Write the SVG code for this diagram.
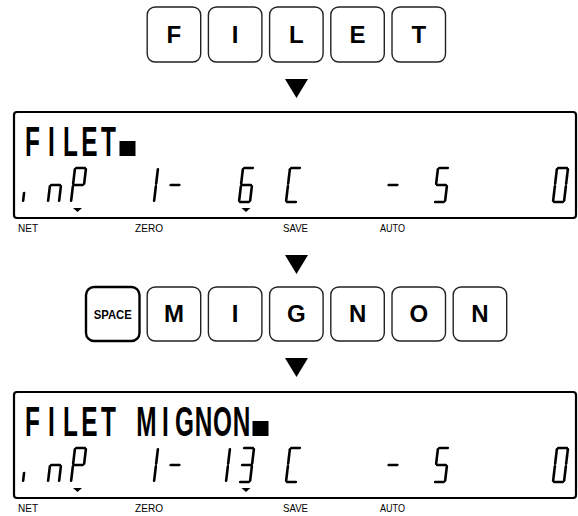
<svg xmlns="http://www.w3.org/2000/svg" width="578" height="516" viewBox="0 0 578 516">
<style>
.key rect{fill:#fff;stroke:#222;stroke-width:1.4}
.key text{font-family:"Liberation Sans",Arial,sans-serif;font-weight:bold;font-size:24px;text-anchor:middle;fill:#000}
.space rect{stroke:#000;stroke-width:2.4}
.space text{font-size:13px}
.frame{fill:#fff;stroke:#000;stroke-width:2.2}
.lcdtxt{font-family:"Liberation Sans",Arial,sans-serif;font-weight:bold;font-size:42px;text-anchor:middle;fill:#000}
.seg{fill:none;stroke:#000;stroke-width:2.6;stroke-linecap:round}
.lbl{font-family:"Liberation Sans",Arial,sans-serif;font-size:11px;fill:#000}
.arrow{fill:#000}
</style>
<defs>
<path id="sa" d="M1.2 0H9.8"/>
<path id="sb" d="M11 1.2V15.8"/>
<path id="sc" d="M11 18.2V32.8"/>
<path id="sd" d="M1.2 34H9.8"/>
<path id="se" d="M0 18.2V32.8"/>
<path id="sf" d="M0 1.2V15.8"/>
<path id="sg" d="M1.2 17H9.8"/>
<path id="si" d="M0 25V32.8"/>
<path id="mk" d="M-4.5 0H4.5L0 4Z"/>
</defs>

<g id="keys-row1">
<g id="key-F" class="key"><rect x="147.2" y="7" width="53.5" height="55" rx="8"/><text x="173.95" y="43">F</text></g>
<g id="key-I1" class="key"><rect x="208.4" y="7" width="53.5" height="55" rx="8"/><text x="235.15" y="43">I</text></g>
<g id="key-L" class="key"><rect x="269.6" y="7" width="53.5" height="55" rx="8"/><text x="296.35" y="43">L</text></g>
<g id="key-E" class="key"><rect x="330.8" y="7" width="53.5" height="55" rx="8"/><text x="357.55" y="43">E</text></g>
<g id="key-T" class="key"><rect x="392" y="7" width="53.5" height="55" rx="8"/><text x="418.75" y="43">T</text></g>
</g>

<g id="lcd1">
<rect class="frame" x="14" y="112" width="562" height="106" rx="3"/>
<text class="lcdtxt" transform="scale(0.58 1)" x="56.03 88.79 121.55 154.31 187.07" y="156">FILET</text>
<rect x="119.5" y="141" width="16" height="15"/>
<g class="seg" transform="translate(27 168) skewX(-6.71)"><use href="#si"/></g>
<g class="seg" transform="translate(52 168) skewX(-6.71)"><use href="#sc"/><use href="#se"/><use href="#sg"/></g>
<g class="seg" transform="translate(75 168) skewX(-6.71)"><use href="#sa"/><use href="#sb"/><use href="#sf"/><use href="#sg"/><use href="#se"/></g>
<g class="seg" transform="translate(147 168) skewX(-6.71)"><use href="#sb"/><use href="#sc"/></g>
<g class="seg" transform="translate(171.5 168) skewX(-6.71)"><use href="#sg"/></g>
<g class="seg" transform="translate(243 168) skewX(-6.71)"><use href="#sa"/><use href="#sf"/><use href="#sg"/><use href="#se"/><use href="#sd"/><use href="#sc"/></g>
<g class="seg" transform="translate(290 168) skewX(-6.71)"><use href="#sa"/><use href="#sf"/><use href="#se"/><use href="#sd"/></g>
<g class="seg" transform="translate(389.5 168) skewX(-6.71)"><use href="#sg"/></g>
<g class="seg" transform="translate(438 168) skewX(-6.71)"><use href="#sa"/><use href="#sf"/><use href="#sg"/><use href="#sc"/><use href="#sd"/></g>
<g class="seg" transform="translate(557 168) skewX(-6.71)"><use href="#sa"/><use href="#sb"/><use href="#sc"/><use href="#sd"/><use href="#se"/><use href="#sf"/></g>
<use href="#mk" x="77.5" y="208"/>
<use href="#mk" x="246" y="208"/>
<text class="lbl" x="18" y="232" textLength="20" lengthAdjust="spacingAndGlyphs">NET</text>
<text class="lbl" x="135" y="232" textLength="28" lengthAdjust="spacingAndGlyphs">ZERO</text>
<text class="lbl" x="283" y="232" textLength="25" lengthAdjust="spacingAndGlyphs">SAVE</text>
<text class="lbl" x="380" y="232" textLength="25" lengthAdjust="spacingAndGlyphs">AUTO</text>
</g>

<g id="keys-row2">
<g id="key-SPACE" class="key space"><rect x="86" y="287" width="53.5" height="54" rx="8"/><text x="112.75" y="319" textLength="38" lengthAdjust="spacingAndGlyphs">SPACE</text></g>
<g id="key-M" class="key"><rect x="147.2" y="287" width="53.5" height="54" rx="8"/><text x="173.95" y="322">M</text></g>
<g id="key-I2" class="key"><rect x="208.4" y="287" width="53.5" height="54" rx="8"/><text x="235.15" y="322">I</text></g>
<g id="key-G" class="key"><rect x="269.6" y="287" width="53.5" height="54" rx="8"/><text x="296.35" y="322">G</text></g>
<g id="key-N1" class="key"><rect x="330.8" y="287" width="53.5" height="54" rx="8"/><text x="357.55" y="322">N</text></g>
<g id="key-O" class="key"><rect x="392" y="287" width="53.5" height="54" rx="8"/><text x="418.75" y="322">O</text></g>
<g id="key-N2" class="key"><rect x="453.2" y="287" width="53.5" height="54" rx="8"/><text x="479.95" y="322">N</text></g>
</g>

<g id="lcd2">
<rect class="frame" x="14" y="392" width="562" height="106" rx="3"/>
<text class="lcdtxt" transform="scale(0.58 1)" x="56.03 88.79 121.55 154.31 187.07 220 252.59 285.34 318.10 350.86 383.62 416.38" y="436">FILET MIGNON</text>
<rect x="252.5" y="421" width="16" height="15"/>
<g class="seg" transform="translate(27 448) skewX(-6.71)"><use href="#si"/></g>
<g class="seg" transform="translate(52 448) skewX(-6.71)"><use href="#sc"/><use href="#se"/><use href="#sg"/></g>
<g class="seg" transform="translate(75 448) skewX(-6.71)"><use href="#sa"/><use href="#sb"/><use href="#sf"/><use href="#sg"/><use href="#se"/></g>
<g class="seg" transform="translate(147 448) skewX(-6.71)"><use href="#sb"/><use href="#sc"/></g>
<g class="seg" transform="translate(171.5 448) skewX(-6.71)"><use href="#sg"/></g>
<g class="seg" transform="translate(219 448) skewX(-6.71)"><use href="#sb"/><use href="#sc"/></g>
<g class="seg" transform="translate(243 448) skewX(-6.71)"><use href="#sa"/><use href="#sb"/><use href="#sg"/><use href="#sc"/><use href="#sd"/></g>
<g class="seg" transform="translate(290 448) skewX(-6.71)"><use href="#sa"/><use href="#sf"/><use href="#se"/><use href="#sd"/></g>
<g class="seg" transform="translate(389.5 448) skewX(-6.71)"><use href="#sg"/></g>
<g class="seg" transform="translate(438 448) skewX(-6.71)"><use href="#sa"/><use href="#sf"/><use href="#sg"/><use href="#sc"/><use href="#sd"/></g>
<g class="seg" transform="translate(557 448) skewX(-6.71)"><use href="#sa"/><use href="#sb"/><use href="#sc"/><use href="#sd"/><use href="#se"/><use href="#sf"/></g>
<use href="#mk" x="77.5" y="488"/>
<use href="#mk" x="246" y="488"/>
<text class="lbl" x="18" y="512" textLength="20" lengthAdjust="spacingAndGlyphs">NET</text>
<text class="lbl" x="135" y="512" textLength="28" lengthAdjust="spacingAndGlyphs">ZERO</text>
<text class="lbl" x="283" y="512" textLength="25" lengthAdjust="spacingAndGlyphs">SAVE</text>
<text class="lbl" x="380" y="512" textLength="25" lengthAdjust="spacingAndGlyphs">AUTO</text>
</g>

<g id="connectors">
<polygon class="arrow" points="285,79 308,79 296.5,98"/>
<polygon class="arrow" points="285,255 308,255 296.5,274"/>
<polygon class="arrow" points="285,358 308,358 296.5,377"/>
</g>
</svg>
